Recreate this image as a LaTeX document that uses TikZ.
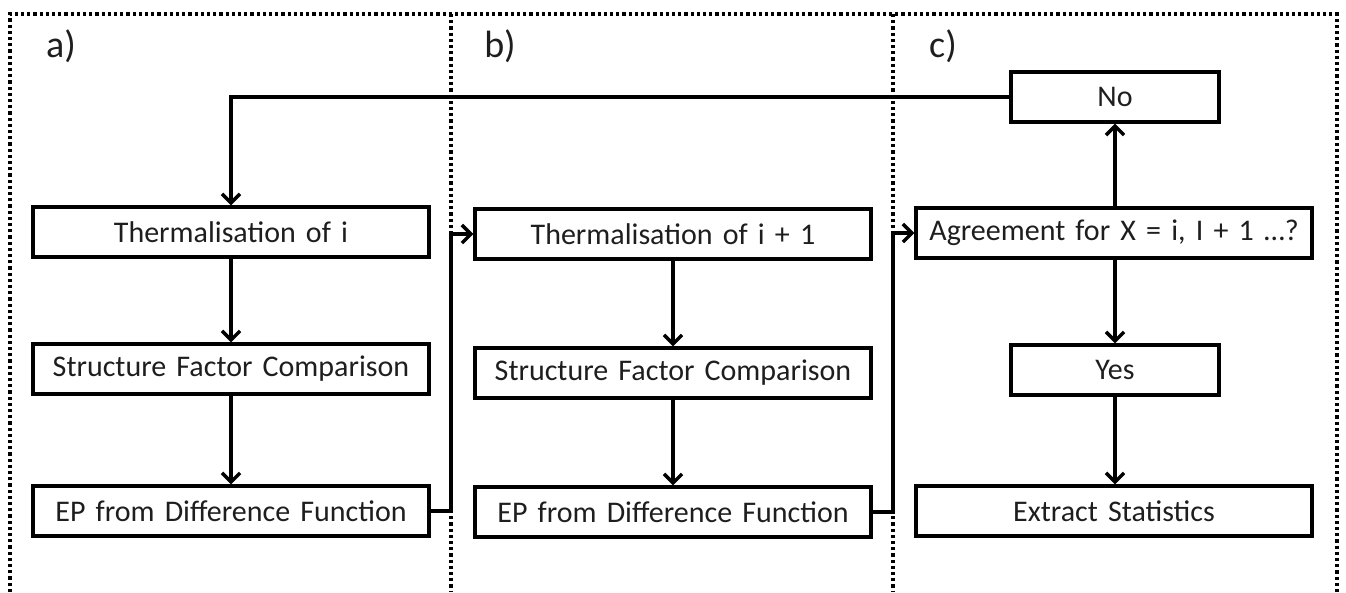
\documentclass[tikz,border=0pt]{standalone}
\usepackage{fontspec}
\setmainfont{Carlito}[WordSpace=1.5]
\usetikzlibrary{arrows.meta}
\definecolor{ink}{RGB}{30,30,30}
\tikzset{
  box/.style={draw=black, line width=3.4pt, minimum height=50pt, inner sep=0pt,
    font=\fontsize{30}{34}\selectfont, text=ink},
  wide/.style={box, minimum width=396pt},
  narrow/.style={box, minimum width=208pt},
  link/.style={line width=3.4pt, -{Straight Barb[length=9pt,width=18pt,line width=3.4pt]}},
  frame/.style={line width=3.2pt, dash pattern=on 3.2pt off 3pt},
  tag/.style={font=\fontsize{38}{42}\selectfont, text=ink, inner sep=0pt}
}
\begin{document}
\begin{tikzpicture}[x=1pt, y=-1pt]
  \useasboundingbox (0,0) rectangle (1346,592);

  % panel frames
  \coordinate (tl) at (10,14);
  \coordinate (tr) at (1337,14);
  \coordinate (d1) at (451,14);
  \coordinate (d2) at (893,14);
  \draw[frame] (10,592) -- (tl) -- (tr) -- (1337,592);
  \draw[frame] (d1) -- (451,592);
  \draw[frame] (d2) -- (893,592);

  % panel tags
  \node[tag] (la) at (61,46) {a)};
  \node[tag] (lb) at (500,46) {b)};
  \node[tag] (lc) at (943,46) {c)};

  % panel a
  \node[wide] (ta) at (231,232) {Thermalisation of i};
  \node[wide] (sa) at (231,369) {Structure Factor Comparison};
  \node[wide] (ea) at (231,511) {EP from Difference Function};

  % panel b
  \node[wide] (tb) at (673,234) {Thermalisation of i + 1};
  \node[wide] (sb) at (673,373) {Structure Factor Comparison};
  \node[wide] (eb) at (673,512) {EP from Difference Function};

  % panel c
  \node[narrow] (no) at (1115,97) {No};
  \node[wide] (ag) at (1114,233) {Agreement for X = i, I + 1 \dots?};
  \node[narrow] (yes) at (1115,370) {Yes};
  \node[wide] (ex) at (1114,511) {Extract Statistics};

  % connectors
  \draw[link] (no.west) -| (ta.north);
  \draw[link] (ta) -- (sa);
  \draw[link] (sa) -- (ea);
  \draw[link] (ea.east) -- (ea.east -| d1) |- (tb.west);
  \draw[link] (tb) -- (sb);
  \draw[link] (sb) -- (eb);
  \draw[link] (eb.east) -- (eb.east -| d2) |- (ag.west);
  \draw[link] (ag.north -| no.south) -- (no.south);
  \draw[link] (ag.south -| yes.north) -- (yes.north);
  \draw[link] (yes) -- (yes |- ex.north);
\end{tikzpicture}
\end{document}
